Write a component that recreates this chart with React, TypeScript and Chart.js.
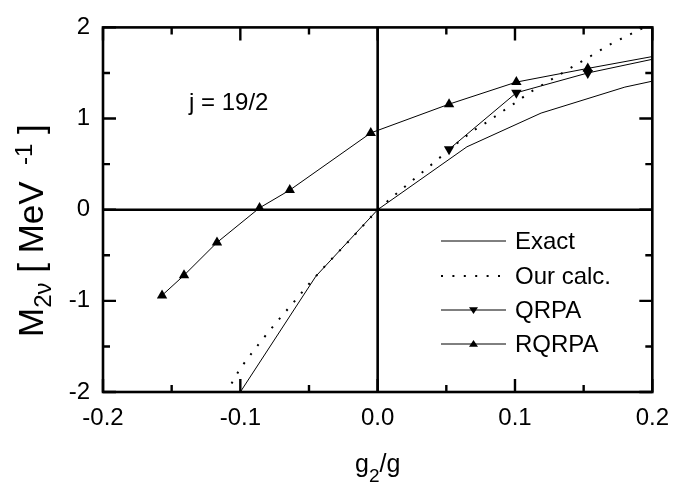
import React, { useEffect, useRef } from 'react';
import { Chart, registerables } from 'chart.js';

Chart.register(...registerables);

const FONT = '"Liberation Sans", Arial, Helvetica, sans-serif';

// Exact
const exactX = [-0.1, -0.045, 0, 0.065, 0.119, 0.18, 0.2];
const exactY = [-2.0, -0.73, 0, 0.69, 1.06, 1.345, 1.41];

// Our calc.
const calcX = [-0.115, -0.11, -0.1, -0.09, -0.08, -0.07, -0.06, -0.05, -0.04, -0.03, -0.02, -0.01, 0, 0.01, 0.02, 0.03, 0.04, 0.05, 0.06, 0.07, 0.08, 0.09, 0.1, 0.11, 0.12, 0.13, 0.14, 0.15, 0.16, 0.17, 0.18, 0.19, 0.2];
const calcY = [-2.12, -2.0, -1.74, -1.54, -1.35, -1.17, -0.995, -0.815, -0.645, -0.485, -0.33, -0.165, 0, 0.13, 0.255, 0.38, 0.505, 0.63, 0.755, 0.87, 0.965, 1.07, 1.17, 1.28, 1.37, 1.46, 1.55, 1.64, 1.73, 1.82, 1.895, 1.97, 2.04];

// QRPA
const qrpaX = [0.052, 0.101, 0.153, 0.2];
const qrpaY = [0.663, 1.283, 1.5, 1.65];

// RQRPA
const rqrpaX = [-0.157, -0.141, -0.117, -0.086, -0.064, -0.005, 0.052, 0.101, 0.153, 0.2];
const rqrpaY = [-0.94, -0.72, -0.36, 0.02, 0.215, 0.842, 1.158, 1.4, 1.55, 1.68];

const xTickValues = [-0.2, -0.1, 0, 0.1, 0.2];
const xTickLabels = ['-0.2', '-0.1', '0.0', '0.1', '0.2'];
const yTickValues = [-2, -1, 0, 1, 2];
const yTickLabels = ['-2', '-1', '0', '1', '2'];

const legendLabels = ['Exact', 'Our calc.', 'QRPA', 'RQRPA'];
const annotationText = 'j = 19/2';

const zip = (xs: number[], ys: number[]) => xs.map((x, i) => ({ x, y: ys[i] }));
const markerRadii = (xs: number[], r: number) => xs.map((x) => (x >= 0.2 ? 0 : r));

const decorPlugin = {
  id: 'decor',
  beforeDatasetsDraw(chart: any) {
    const { ctx, chartArea: a, scales } = chart;
    const xs = scales.x;
    const ys = scales.y;
    ctx.save();
    ctx.strokeStyle = '#000';
    ctx.lineWidth = 2.6;
    const x0 = xs.getPixelForValue(0);
    const y0 = ys.getPixelForValue(0);
    ctx.beginPath();
    ctx.moveTo(x0, a.top);
    ctx.lineTo(x0, a.bottom);
    ctx.moveTo(a.left, y0);
    ctx.lineTo(a.right, y0);
    ctx.stroke();
    ctx.restore();
  },
  afterDraw(chart: any) {
    const { ctx, chartArea: a, scales } = chart;
    const xs = scales.x;
    const ys = scales.y;
    ctx.save();
    ctx.strokeStyle = '#000';
    ctx.lineWidth = 2.4;
    for (let i = 0; i <= 8; i++) {
      const v = -0.2 + i * 0.05;
      const px = xs.getPixelForValue(v);
      const len = i % 2 === 0 ? 13 : 7;
      ctx.beginPath();
      ctx.moveTo(px, a.bottom);
      ctx.lineTo(px, a.bottom - len);
      ctx.moveTo(px, a.top);
      ctx.lineTo(px, a.top + len);
      ctx.stroke();
    }
    for (let i = 0; i <= 8; i++) {
      const v = -2 + i * 0.5;
      const py = ys.getPixelForValue(v);
      const len = i % 2 === 0 ? 13 : 7;
      ctx.beginPath();
      ctx.moveTo(a.left, py);
      ctx.lineTo(a.left + len, py);
      ctx.moveTo(a.right, py);
      ctx.lineTo(a.right - len, py);
      ctx.stroke();
    }
    ctx.lineWidth = 2.6;
    ctx.strokeRect(a.left, a.top, a.right - a.left, a.bottom - a.top);

    // annotation
    ctx.fillStyle = '#000';
    ctx.font = `24px ${FONT}`;
    ctx.textBaseline = 'alphabetic';
    ctx.textAlign = 'left';
    ctx.fillText(annotationText, 189, 110);

    // legend
    const rows = [241, 276, 310, 344];
    const lx1 = 441;
    const lx2 = 506;
    ctx.font = `24px ${FONT}`;
    ctx.textBaseline = 'middle';
    chart.data.datasets.forEach((ds: any, i: number) => {
      const y = rows[i];
      ctx.save();
      ctx.strokeStyle = ds.borderColor;
      ctx.lineWidth = ds.borderWidth;
      ctx.setLineDash(ds.borderDash || []);
      ctx.beginPath();
      ctx.moveTo(lx1, y);
      ctx.lineTo(lx2, y);
      ctx.stroke();
      ctx.restore();
      if (ds.legendMarker) {
        const cx = (lx1 + lx2) / 2;
        const r = 4.5;
        ctx.beginPath();
        if (ds.legendMarker === 'down') {
          ctx.moveTo(cx - r, y - r * 0.6);
          ctx.lineTo(cx + r, y - r * 0.6);
          ctx.lineTo(cx, y + r * 0.9);
        } else {
          ctx.moveTo(cx - r, y + r * 0.6);
          ctx.lineTo(cx + r, y + r * 0.6);
          ctx.lineTo(cx, y - r * 0.9);
        }
        ctx.closePath();
        ctx.fill();
      }
      ctx.fillText(legendLabels[i], 515, y + 1);
    });

    // x title g_2/g
    ctx.textBaseline = 'alphabetic';
    const mainX = `25px ${FONT}`;
    const subX = `19px ${FONT}`;
    ctx.font = mainX;
    const wg = ctx.measureText('g').width;
    const wsl = ctx.measureText('/g').width;
    ctx.font = subX;
    const w2 = ctx.measureText('2').width;
    const total = wg + w2 + wsl;
    let tx = xs.getPixelForValue(0) - total / 2;
    const tb = 472;
    ctx.font = mainX;
    ctx.fillText('g', tx, tb);
    tx += wg;
    ctx.font = subX;
    ctx.fillText('2', tx, tb + 10);
    tx += w2;
    ctx.font = mainX;
    ctx.fillText('/g', tx, tb);

    // y title M_2ν [ MeV ^-1 ]
    ctx.save();
    ctx.translate(43, 337);
    ctx.rotate(-Math.PI / 2);
    const mainY = `35px ${FONT}`;
    const smallY = `24px ${FONT}`;
    const parts: [string, string, number][] = [
      ['M', mainY, 0],
      ['2ν', smallY, 8],
      [' [ MeV ', mainY, 0],
      [' -1', smallY, -11],
      [' ]', mainY, 0],
    ];
    let px = 0;
    for (const [t, f, dy] of parts) {
      ctx.font = f;
      ctx.fillText(t, px, dy);
      px += ctx.measureText(t).width;
    }
    ctx.restore();
    ctx.restore();
  },
};

export default function App() {
  const ref = useRef<HTMLCanvasElement | null>(null);
  useEffect(() => {
    if (!ref.current) return;
    const chart = new Chart(ref.current, {
      type: 'line',
      data: {
        datasets: [
          {
            label: legendLabels[0],
            data: zip(exactX, exactY),
            borderColor: '#000',
            borderWidth: 1,
            pointRadius: 0,
            fill: false,
            tension: 0,
          },
          {
            label: legendLabels[1],
            data: zip(calcX, calcY),
            borderColor: '#000',
            borderWidth: 2,
            borderDash: [2, 9.4],
            pointRadius: 0,
            fill: false,
            tension: 0,
          },
          {
            label: legendLabels[2],
            data: zip(qrpaX, qrpaY),
            borderColor: '#000',
            borderWidth: 1,
            pointRadius: markerRadii(qrpaX, 6),
            pointStyle: 'triangle',
            rotation: 180,
            pointBackgroundColor: '#000',
            pointBorderColor: '#000',
            pointBorderWidth: 0,
            fill: false,
            tension: 0,
            legendMarker: 'down',
          } as any,
          {
            label: legendLabels[3],
            data: zip(rqrpaX, rqrpaY),
            borderColor: '#000',
            borderWidth: 1,
            pointRadius: markerRadii(rqrpaX, 6),
            pointStyle: 'triangle',
            pointBackgroundColor: '#000',
            pointBorderColor: '#000',
            pointBorderWidth: 0,
            fill: false,
            tension: 0,
            legendMarker: 'up',
          } as any,
        ],
      },
      options: {
        animation: false,
        responsive: false,
        parsing: false as any,
        layout: { padding: { top: 20, right: 24, left: 0, bottom: 0 } },
        plugins: {
          legend: { display: false },
          tooltip: { enabled: false },
          title: { display: false },
        },
        scales: {
          x: {
            type: 'linear',
            min: -0.2,
            max: 0.2,
            grid: { display: false, drawTicks: false },
            border: { display: false },
            afterFit: (s: any) => {
              s.height = 93;
            },
            ticks: {
              stepSize: 0.1,
              autoSkip: false,
              maxRotation: 0,
              padding: 12,
              color: '#000',
              font: { family: FONT, size: 24 },
              callback: (v: any) => {
                const i = xTickValues.findIndex((t) => Math.abs(t - Number(v)) < 1e-9);
                return i >= 0 ? xTickLabels[i] : '';
              },
            },
          },
          y: {
            type: 'linear',
            min: -2,
            max: 2,
            grid: { display: false, drawTicks: false },
            border: { display: false },
            afterFit: (s: any) => {
              s.width = 103;
            },
            ticks: {
              stepSize: 1,
              autoSkip: false,
              padding: 13,
              color: '#000',
              font: { family: FONT, size: 24 },
              callback: (v: any) => {
                const i = yTickValues.findIndex((t) => Math.abs(t - Number(v)) < 1e-9);
                return i >= 0 ? yTickLabels[i] : '';
              },
            },
          },
        },
      },
      plugins: [decorPlugin],
    });
    return () => chart.destroy();
  }, []);
  return (
    <div style={{ position: 'absolute', left: 0, top: 0, width: 681, height: 485, background: '#fff' }}>
      <canvas ref={ref} width={681} height={485} style={{ display: 'block', width: 681, height: 485 }} />
    </div>
  );
}
